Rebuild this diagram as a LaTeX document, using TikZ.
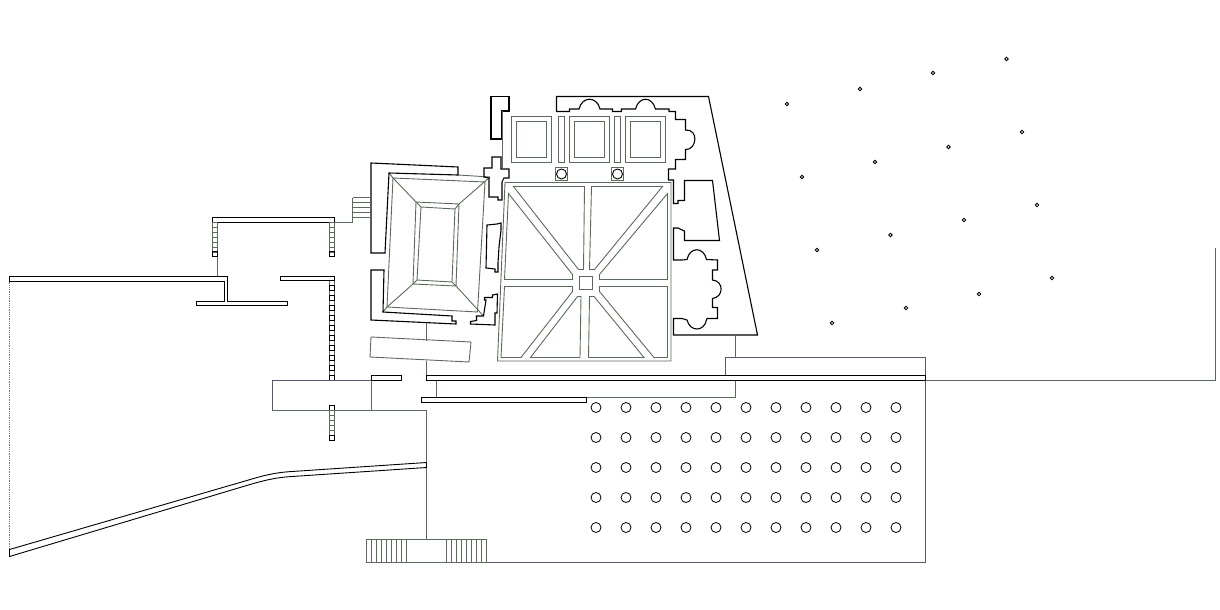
\documentclass[tikz,border=0pt]{standalone}
\usepackage{tikz}
\definecolor{planline}{HTML}{5C6A5C}
\definecolor{planviolet}{HTML}{5E566E}
\definecolor{dotline}{HTML}{6A7A6A}
\begin{document}
\begin{tikzpicture}[
            x=1pt, y=-1pt,
            wall/.style={draw=black, line width=1.1pt, fill=none},
            thinwall/.style={draw=black, line width=0.9pt},
            plan/.style={draw=planline, line width=0.9pt},
            planv/.style={draw=planviolet, line width=0.9pt},
            column/.style={draw=black, line width=0.8pt}
        ]
            \useasboundingbox (0,0) rectangle (1220,610);

            % --- SMALL COURT ---
            \draw[plan] (458,175) -- (490,177);
            \draw[plan] (393,178) -- (485,182) -- (477.5,312) -- (387,307) -- cycle;
            \draw[plan] (389,173) -- (393,178) (383,312) -- (387,307);
            \draw[plan] (416,202) -- (459,204) -- (456,286) -- (413,284) -- cycle;
            \draw[plan] (421,207) -- (455,209) -- (452,282) -- (417,280) -- cycle;
            \draw[plan] (393,178) -- (416,202) (490,177) -- (459,204) (483.5,316) -- (456,286) (387,307) -- (413,284);
            \draw[plan] (416,202) -- (421,207) (459,204) -- (455,209) (456,286) -- (452,282) (413,284) -- (417,280);

            % walls round it
            \draw[wall] (371,163) -- (458,167) -- (458,175) -- (389,173) -- (385,253) -- (371,253) -- cycle;
            \draw[wall] (371,270) -- (384,270) -- (383,312) -- (452,316) -- (452,321) -- (456,321) -- (456,324) -- (371,320) -- cycle;
            \draw[wall] (484,168) -- (492,168) -- (492,157) -- (501,157) -- (501,169) -- (509,169) -- (509,178) -- (504,178) -- (502,182) -- (502,200) -- (498,200) -- (498,197) -- (489,197) -- (489,178) -- (484,177) -- cycle;
            \draw[wall] (487,225) -- (497,224) -- (501,223) -- (501,230) -- (499,247) -- (498,263) -- (498,272) -- (495,272) -- (495,269) -- (486,268) -- cycle;
            \draw[wall] (484.5,297.5) -- (492.5,297.5) -- (492.5,295) -- (497.5,294) -- (497,313) -- (495,313) -- (495,325) -- (470.5,324) -- (470.5,321.5) -- (476.5,320.5) -- (476.5,316) -- (483.5,316) -- (486,300) -- (484.5,300) -- cycle;

            % stairs beside the walls
            \foreach \ypos in {197.5,202.5,207.5,212.5,217.5}
                \draw[plan] (352.5,\ypos) -- (371,\ypos);
            \draw[plan] (352.5,197.5) -- (352.5,222.5) -- (334.5,222.5);

            % slab under the court
            \draw[plan] (371,337) -- (471,342) -- (469,362) -- (370,357) -- cycle;
            \draw[plan] (426,323) -- (426,341) (426,361) -- (426,376);

            % --- NORTH RANGE ---
            \draw[wall] (491,96.5) -- (509,96.5) -- (509,111) -- (502,111) -- (502,139) -- (491,139) -- cycle;
            \draw[plan] (502,111) -- (502,168);
            \draw[wall] (673.5,180) -- (668.5,180) -- (668.5,169) -- (675.5,169) -- (675.5,159.5) -- (685.5,159.5) -- (685.5,149.5)
                .. controls (697,150) and (699,129) .. (685.5,130)
                -- (685.5,119.5) -- (675.5,119.5) -- (675.5,111.5) -- (669,111.5) -- (669,109) -- (655.5,109)
                .. controls (652,96) and (639,96) .. (635.5,109)
                -- (621.5,109) -- (621.5,111.5) -- (612.5,111.5) -- (612.5,109) -- (600,109)
                .. controls (597,96) and (582,96) .. (579,109)
                -- (569.5,109) -- (569.5,111.5) -- (556.5,111.5) -- (556.5,96.5) -- (708.5,96.5) -- (757.5,335)
                -- (673.5,335) -- (673.5,318.5) -- (682,318.5) -- (687,320)
                .. controls (690,332) and (704,332) .. (706.5,320)
                -- (707,318.5) -- (717.5,318.5) -- (717.5,307.5) -- (712.5,307.5) -- (712.5,298.5)
                .. controls (724,297) and (724,281) .. (712.5,280)
                -- (712.5,270) -- (717.5,270) -- (717.5,260) -- (706.5,259.5)
                .. controls (704,247) and (690,246) .. (687,259.5)
                -- (682,260) -- (673.5,260) -- (673.5,228) -- (678,228) -- (684.5,231) -- (684.5,240.5) -- (719.5,240.5) -- (712.5,180.5) -- (684.5,180.5) -- (684.5,200.5) -- (678,200.5) -- (678,203.5) -- (673.5,203.5) -- cycle;

            % rooms
            \foreach \xpos in {511.5,569.5,625.5} {
                \draw[plan] (\xpos,116.5) rectangle ++(40,46);
                \draw[plan] (\xpos+5,121.5) rectangle ++(30,36);
            }
            \foreach \xpos in {558.5,614.5}
                \draw[plan] (\xpos,116.5) rectangle ++(6,46);
            \foreach \xpos in {561.5,617.5} {
                \draw[plan] (\xpos-6,167.5) rectangle (\xpos+6,180.5);
                \draw[thinwall] (\xpos,174) circle (5);
            }

            % --- GREAT COURT ---
            \draw[plan] (505,182.5) -- (671,182.5) -- (671,361) -- (497.5,361) -- cycle;
            \draw[plan] (513.5,186.5) -- (584.5,186.5) -- (583.5,269.5) -- (578.5,269.5) -- cycle;
            \draw[plan] (508.5,193.5) -- (572.5,274.5) -- (572.5,279.5) -- (504.5,279.5) -- cycle;
            \draw[plan] (591.5,186.5) -- (662.5,186.5) -- (594.5,269.5) -- (589.5,269.5) -- cycle;
            \draw[plan] (667.5,193.5) -- (667.5,279.5) -- (599.5,279.5) -- (599.5,274.5) -- cycle;
            \draw[plan] (579.5,276.5) rectangle (592.5,289.5);
            \draw[plan] (504.5,286.5) -- (572.5,286.5) -- (572.5,291.5) -- (521,357.5) -- (501,357.5) -- cycle;
            \draw[plan] (577.5,296.5) -- (581,296.5) -- (580,357.5) -- (530.5,357.5) -- cycle;
            \draw[plan] (589.5,296.5) -- (594,296.5) -- (644,357.5) -- (588.5,357.5) -- cycle;
            \draw[plan] (599.5,286.5) -- (667.5,286.5) -- (667.5,357.5) -- (654,357.5) -- (599.5,291.5) -- cycle;

            % --- WEST WALLS AND LADDERS ---
            \draw[wall] (212.5,217.5) rectangle (334.5,222.5);
            \foreach \xpos in {212.5,329.5} {
                \foreach \ypos in {222.5,227.5,...,247.5}
                    \draw[plan] (\xpos,\ypos) rectangle ++(5,5);
                \draw[thinwall] (\xpos,251.5) rectangle ++(5,5);
            }
            \draw[plan] (217.5,256.5) -- (217.5,276.5);
            \draw[wall] (9.5,276.5) -- (227.5,276.5) -- (227.5,301.5) -- (287.5,301.5) -- (287.5,305.5) -- (196.5,305.5) -- (196.5,301.5) -- (224.5,301.5) -- (224.5,281.5) -- (9.5,281.5) -- cycle;
            \draw[wall] (280.5,276.5) rectangle (334.5,280.5);
            \draw[plan] (329.5,280.5) -- (329.5,375.5) (334.5,280.5) -- (334.5,375.5);
            \foreach \ypos in {285.5,295.5,...,375.5}
                \draw[thinwall] (329.5,\ypos) rectangle ++(5,5);
            \draw[plan] (329.5,410.5) rectangle (334.5,435.5);
            \foreach \ypos in {415.5,420.5,425.5,430.5}
                \draw[plan] (329.5,\ypos) -- (334.5,\ypos);
            \draw[thinwall] (329.5,405.5) rectangle ++(5,5);
            \draw[thinwall] (329.5,435.5) rectangle ++(5,5);
            \draw[draw=dotline, densely dotted, line width=0.8pt] (9.5,281.5) -- (9.5,549.5);

            % --- HALL ---
            \draw[planv] (272.5,410.5) -- (272.5,380.5) -- (371.5,380.5);
            \draw[plan] (272.5,410.5) -- (371.5,410.5) -- (371.5,380.5);
            \draw[plan] (371.5,410.5) -- (426.5,410.5) -- (426.5,539);
            \draw[plan] (436.5,380.5) -- (436.5,397.5) (586.5,397.5) -- (735.5,397.5);
            \draw[plan] (735.5,335) -- (735.5,357.5) (735.5,380.5) -- (735.5,397.5);
            \draw[planv] (725.5,375.5) -- (725.5,357.5) -- (925.5,357.5) -- (925.5,562.5) -- (366.5,562.5);
            \draw[plan] (925.5,380.5) -- (1215.5,380.5) -- (1215.5,248);
            \draw[wall] (371.5,375.5) rectangle (401.5,380.5);
            \draw[wall] (426.5,375.5) rectangle (925.5,380.5);
            \draw[wall] (421.5,397.5) rectangle (586.5,402.5);

            % curved wall
            \draw[thinwall] (9.5,549.5) -- (248.5,480) .. controls (262,476) and (274,472.5) .. (292,471.5) -- (426.5,462.5)
                -- (426.5,467.5) -- (292,476.5) .. controls (274,477.5) and (260,481.5) .. (245,486) -- (9.5,556.5) -- cycle;

            % stairs
            \draw[plan] (366.5,539) rectangle (486.5,562.5);
            \foreach \xpos in {371.5,376.5,...,406.5,451.5,456.5,...,481.5}
                \draw[plan] (\xpos,539) -- (\xpos,562.5);
            \draw[plan] (446.5,539) -- (446.5,562.5);

            % --- COLUMNS ---
            \foreach \xpos in {596,626,...,896}
                \foreach \ypos in {407.5,437.5,...,527.5}
                    \draw[column] (\xpos,\ypos) circle (5);

            % --- TREES ---
            \foreach \xpos/\ypos in {787/104,860/89,933/73,1006.5/59,
                                     802/177,875/162,948.5/147,1022/132,
                                     817/250,890.5/235,964/220,1037/205,
                                     832/323,906/308,979/294,1052/278}
                \draw[column] (\xpos,\ypos) circle (1.8);
        \end{tikzpicture}
\end{document}
